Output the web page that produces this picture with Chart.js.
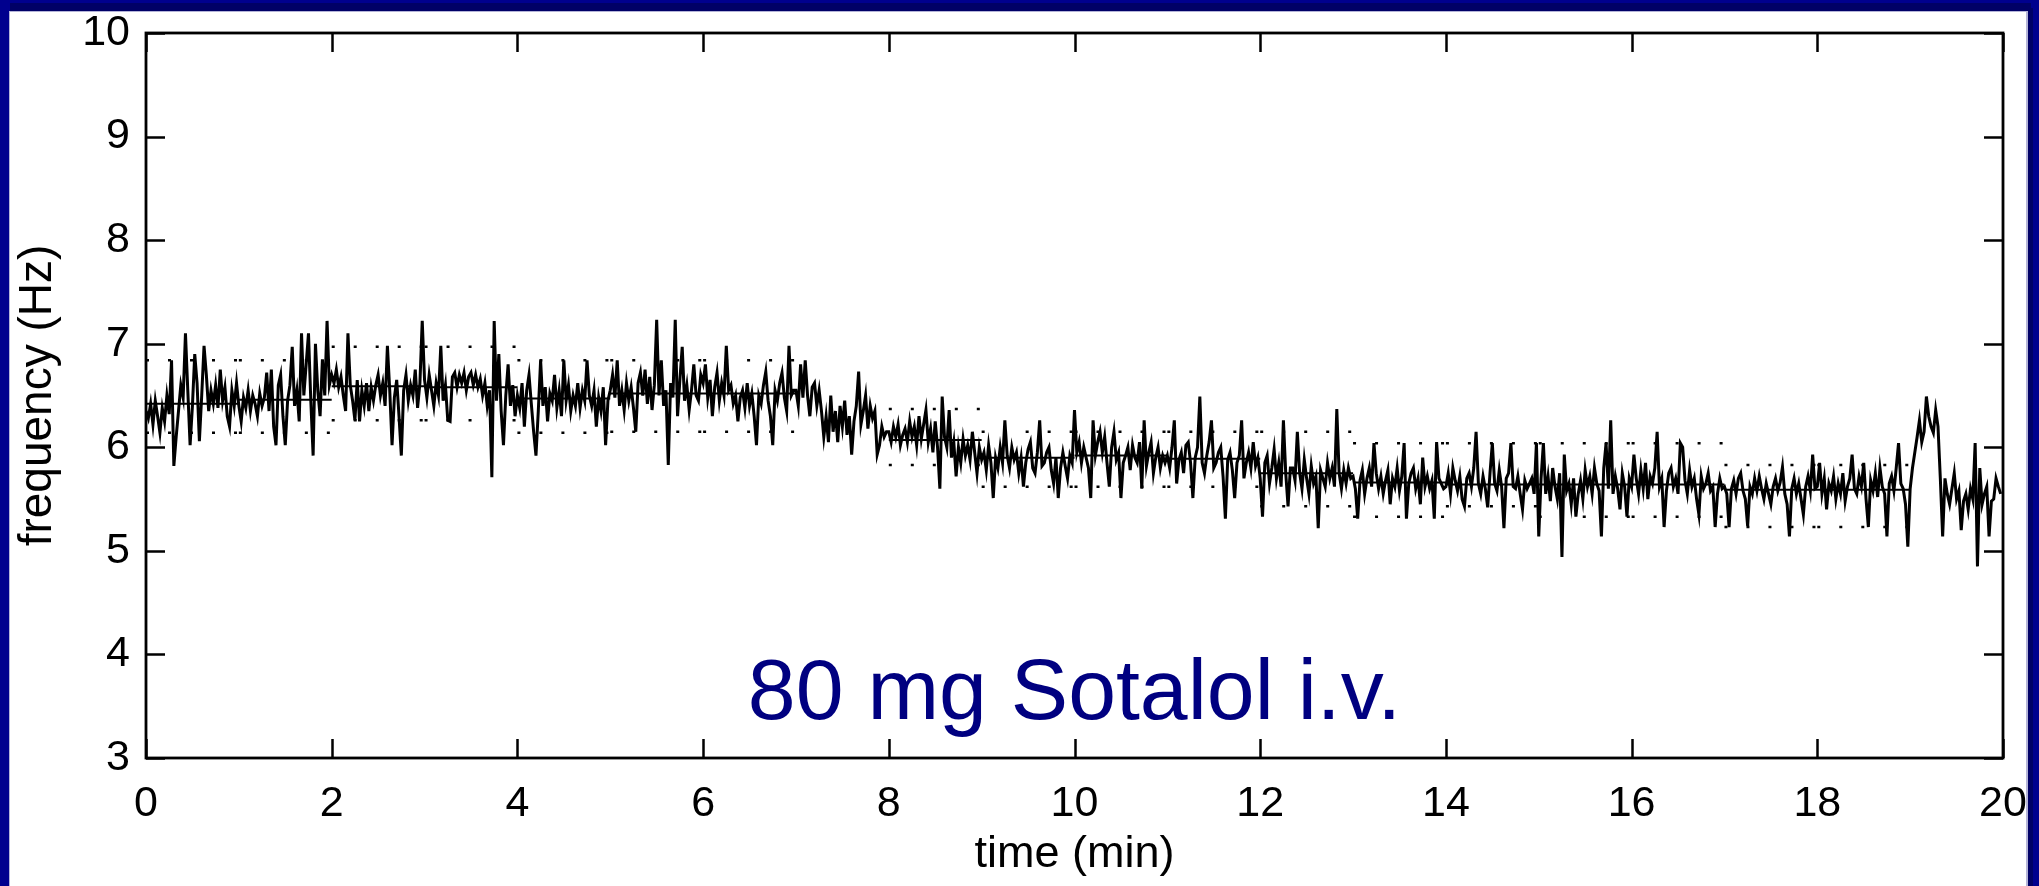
<!DOCTYPE html>
<html>
<head>
<meta charset="utf-8">
<title>80 mg Sotalol i.v.</title>
<script src="https://cdn.jsdelivr.net/npm/chart.js@4.4.1/dist/chart.umd.min.js"></script>
<style>
  html, body { margin: 0; padding: 0; background: #fff; overflow: hidden; }
  #wrap { position: relative; width: 2039px; height: 886px; }
</style>
</head>
<body>
<div id="wrap"><canvas id="freqChart"></canvas></div>
<script>
const FONT = "'Liberation Sans', Arial, Helvetica, sans-serif";

// dominant frequency (Hz), one sample every 1.5 s, one row per minute
const sampleStep = 0.025; // min
const freq = [
  6.35,6.28,6.42,6.22,6.45,6.30,6.14,6.38,6.25,6.50, 6.32,6.84,5.82,6.10,6.35,6.60,6.48,7.10,6.55,6.02, 6.40,6.90,6.62,6.06,6.50,6.98,6.70,6.35,6.55,6.42, 6.60,6.38,6.75,6.45,6.58,6.30,6.20,6.55,6.40,6.62,
  6.40,6.25,6.48,6.38,6.55,6.35,6.50,6.42,6.30,6.52, 6.40,6.48,6.72,6.35,6.75,6.20,6.02,6.60,6.70,6.30, 6.02,6.45,6.60,6.97,6.40,6.55,6.25,7.10,6.50,6.80, 7.10,6.45,5.92,7.00,6.55,6.30,6.85,6.50,7.22,6.60,
  6.70,6.62,6.75,6.58,6.68,6.50,6.35,7.10,6.60,6.45, 6.26,6.65,6.25,6.55,6.40,6.62,6.35,6.58,6.45,6.60, 6.70,6.50,6.62,6.40,6.98,6.55,6.02,6.48,6.65,6.30, 5.92,6.55,6.70,6.45,6.60,6.50,6.75,6.38,6.62,7.22,
  6.65,6.48,6.70,6.55,6.40,6.62,6.50,6.98,6.45,6.60, 6.26,6.25,6.68,6.72,6.58,6.70,6.62,6.72,6.55,6.68, 6.72,6.60,6.70,6.58,6.66,6.50,6.62,6.40,6.55,5.71, 7.22,6.45,6.90,6.35,6.02,6.50,6.80,6.40,6.60,6.30,
  6.50,6.38,6.62,6.20,6.55,6.70,6.42,6.15,5.92,6.35, 6.84,6.40,6.58,6.25,6.52,6.45,6.70,6.38,6.55,6.30, 6.84,6.45,6.60,6.35,6.50,6.40,6.62,6.38,6.55,6.45, 6.84,6.50,6.40,6.55,6.20,6.48,6.35,6.58,6.02,6.45,
  6.55,6.70,6.48,6.84,6.40,6.55,6.36,6.62,6.45,6.58, 6.38,6.15,6.62,6.72,6.50,6.75,6.42,6.68,6.36,6.60, 7.23,6.50,6.84,6.40,6.55,5.83,6.62,6.48,7.23,6.30, 6.65,6.97,6.45,6.60,6.36,6.55,6.80,6.50,6.45,6.70,
  6.62,6.80,6.48,6.65,6.30,6.58,6.72,6.45,6.62,6.50, 6.98,6.55,6.60,6.42,6.50,6.25,6.48,6.55,6.38,6.62, 6.40,6.52,6.30,6.02,6.50,6.42,6.60,6.73,6.45,6.30, 6.02,6.55,6.45,6.62,6.72,6.48,6.35,6.98,6.50,6.55,
  6.55,6.40,6.80,6.48,6.84,6.50,6.30,6.58,6.62,6.40, 6.55,6.35,6.10,6.30,6.05,6.50,6.15,6.35,6.05,6.40, 6.20,6.45,6.12,6.30,5.93,6.25,6.40,6.73,6.22,6.35, 6.50,6.18,6.40,6.28,6.35,5.93,6.02,6.20,6.10,6.15,
  6.15,6.05,6.20,6.10,6.22,6.02,6.12,6.18,6.05,6.25, 6.10,6.20,6.02,6.30,6.08,6.22,6.36,6.05,6.18,5.95, 6.25,6.00,5.60,6.49,6.10,6.00,6.36,5.90,6.05,5.72, 6.00,5.85,6.08,5.92,6.02,5.88,6.15,5.95,5.75,6.00,
  5.88,5.95,5.78,6.02,5.85,5.51,5.90,5.80,6.00,5.85, 6.26,5.92,5.80,6.00,5.88,5.95,5.75,5.90,5.62,5.85, 5.98,6.05,5.80,5.75,5.95,6.26,5.82,5.85,5.95,6.00, 5.78,5.65,5.90,5.51,5.80,5.95,5.82,5.70,5.92,5.85,
  6.36,5.95,6.05,5.85,6.00,5.90,5.80,5.51,6.26,5.92, 6.05,6.15,5.95,6.10,5.85,5.62,6.00,6.15,5.88,5.95, 5.51,5.85,5.92,6.00,5.78,6.02,5.90,5.85,6.05,5.60, 6.26,5.82,5.95,6.05,5.75,5.90,6.00,5.80,5.92,5.85,
  5.92,5.80,6.00,6.26,5.65,5.88,5.95,5.75,6.02,6.05, 5.85,5.51,5.90,6.00,6.49,5.85,5.75,5.92,6.05,6.26, 5.80,5.85,5.95,6.00,5.72,5.31,5.88,5.95,5.78,5.51, 5.85,5.92,6.26,5.70,5.85,5.95,5.80,6.05,5.82,5.90,
  5.70,5.33,5.85,5.92,5.65,5.80,5.98,5.70,5.85,5.62, 6.26,5.75,5.43,5.80,5.80,5.68,6.15,5.75,5.60,5.88, 5.70,5.55,5.82,5.65,5.72,5.22,5.78,5.70,5.62,5.85, 5.70,5.80,5.62,6.37,5.75,5.60,5.78,5.65,5.80,5.70,
  5.72,5.60,5.31,5.68,5.78,5.55,5.70,5.80,5.62,6.04, 5.75,5.60,5.72,5.55,5.68,5.78,5.45,5.70,5.62,5.80, 5.58,5.72,6.04,5.31,5.65,5.75,5.80,5.60,5.70,5.45, 5.90,5.62,5.72,5.60,5.68,5.31,6.05,5.70,5.65,5.60,
  5.62,5.75,5.55,5.80,5.68,5.58,5.72,5.50,5.43,5.70, 5.75,5.62,5.80,6.15,5.65,5.55,5.72,5.60,5.42,5.75, 6.04,5.65,5.58,5.78,5.62,5.22,5.70,5.75,6.04,5.62, 5.60,5.72,5.55,5.40,5.68,5.60,5.65,5.70,5.55,6.04,
  5.14,5.70,6.04,5.55,5.72,5.48,5.80,5.62,5.50,5.75, 4.94,5.93,5.58,5.65,5.45,5.70,5.33,5.55,5.68,5.50, 5.78,5.62,5.72,5.55,5.80,5.65,5.58,5.14,5.80,6.04, 5.60,6.26,5.55,5.72,5.60,5.40,5.75,5.62,5.33,5.70,
  5.62,5.93,5.70,5.55,5.78,5.60,5.85,5.50,5.72,5.65, 5.80,6.15,5.62,5.70,5.23,5.58,5.75,5.80,5.62,5.70, 5.55,6.04,6.00,5.68,5.55,5.78,5.62,5.70,5.50,5.35, 5.72,5.60,5.65,5.75,5.58,5.62,5.23,5.55,5.70,5.60,
  5.62,5.55,5.23,5.60,5.68,5.55,5.70,5.75,5.58,5.50, 5.24,5.62,5.55,5.70,5.58,5.72,5.60,5.50,5.65,5.55, 5.45,5.62,5.70,5.58,5.66,5.81,5.55,5.45,5.14,5.60, 5.70,5.55,5.65,5.50,5.35,5.62,5.72,5.58,5.93,5.60,
  5.62,5.85,5.55,5.70,5.40,5.65,5.58,5.72,5.50,5.65, 5.55,5.75,5.48,5.62,5.70,5.93,5.60,5.55,5.72,5.62, 5.85,5.50,5.23,5.68,5.58,5.75,5.52,5.80,5.62,5.55, 5.14,5.65,5.72,5.58,5.80,6.04,5.65,5.60,5.45,5.04,
  5.60,5.80,5.95,6.10,6.26,6.05,6.15,6.49,6.30,6.20, 6.14,6.36,6.20,5.70,5.14,5.70,5.55,5.45,5.60,5.75, 5.50,5.58,5.20,5.48,5.55,5.40,5.60,5.50,6.04,4.85, 5.80,5.45,5.55,5.62,5.14,5.48,5.50,5.70,5.62,5.55
];

// one-minute windows: mean and the dotted upper / lower bounds (null = not drawn)
const windowMean  = [6.42,6.46,6.59,6.58,6.47,6.52,6.52,null,6.07,5.90,5.92,5.89,5.75,5.66,5.64,5.64,5.64,5.59,5.59,null];
const windowUpper = [6.84,6.84,6.97,6.97,6.84,6.84,6.84,null,6.37,6.15,6.15,6.15,6.15,6.04,6.04,6.04,6.04,5.83,5.83,null];
const windowLower = [6.14,6.14,6.26,6.26,6.14,6.15,6.15,null,5.83,5.62,5.62,5.62,5.43,5.33,5.43,5.33,5.33,5.23,5.23,null];

const xTicks = [0, 2, 4, 6, 8, 10, 12, 14, 16, 18, 20];
const yTicks = [3, 4, 5, 6, 7, 8, 9, 10];

const signalPoints = freq.map((v, i) => ({ x: i * sampleStep, y: v }));

// horizontal piece per window, broken by a NaN point between windows
function windowSegments(values) {
  const pts = [];
  values.forEach((v, m) => {
    if (v === null) return;
    pts.push({ x: m, y: v }, { x: m + 1, y: v }, { x: m + 1, y: NaN });
  });
  return pts;
}

const frameAndTicks = {
  id: "frameAndTicks",
  beforeDraw(chart) {
    const { ctx, width, height } = chart;
    ctx.save();
    ctx.fillStyle = "#ffffff";
    ctx.fillRect(0, 0, width, height);
    // slide border
    ctx.fillStyle = "#00008e";
    ctx.fillRect(0, 0, width, 12);
    ctx.fillRect(0, 0, 10, height);
    ctx.fillRect(width - 13, 0, 13, height);
    ctx.fillStyle = "#000066";
    ctx.fillRect(10, 3, width - 18, 8);
    ctx.fillRect(width - 11, 8, 5, height);
    ctx.fillStyle = "#b4b4d8";
    ctx.fillRect(10, 11, width - 23, 1);
    ctx.fillRect(9, 11, 1, height);
    ctx.fillRect(width - 13, 11, 2, height);
    ctx.restore();
  },
  afterDatasetsDraw(chart) {
    const { ctx, chartArea: a, scales: { x, y } } = chart;
    const len = 19;
    ctx.save();
    ctx.strokeStyle = "#000";
    ctx.lineWidth = 2.8;
    ctx.strokeRect(a.left, a.top, a.right - a.left, a.bottom - a.top);
    ctx.lineWidth = 2.5;
    ctx.beginPath();
    xTicks.forEach(v => {
      const px = Math.round(x.getPixelForValue(v)) + 0.5;
      ctx.moveTo(px, a.bottom); ctx.lineTo(px, a.bottom - len);
      ctx.moveTo(px, a.top); ctx.lineTo(px, a.top + len);
    });
    yTicks.forEach(v => {
      const py = Math.round(y.getPixelForValue(v)) + 0.5;
      ctx.moveTo(a.left, py); ctx.lineTo(a.left + len, py);
      ctx.moveTo(a.right, py); ctx.lineTo(a.right - len, py);
    });
    ctx.stroke();

    ctx.fillStyle = "#000080";
    ctx.font = "86px " + FONT;
    ctx.textAlign = "center";
    ctx.textBaseline = "alphabetic";
    ctx.fillText("80 mg Sotalol i.v.", x.getPixelForValue(10), y.getPixelForValue(3.38));
    ctx.restore();
  }
};

new Chart(document.getElementById("freqChart"), {
  type: "line",
  data: {
    datasets: [
      {
        data: signalPoints,
        borderColor: "#000",
        borderWidth: 3,
        pointRadius: 0,
        tension: 0
      },
      {
        data: windowSegments(windowMean),
        borderColor: "#000",
        borderWidth: 2,
        pointRadius: 0,
        spanGaps: false
      },
      {
        data: windowSegments(windowUpper),
        borderColor: "#000",
        borderWidth: 2.5,
        borderDash: [3, 19],
        pointRadius: 0,
        spanGaps: false
      },
      {
        data: windowSegments(windowLower),
        borderColor: "#000",
        borderWidth: 2.5,
        borderDash: [3, 19],
        pointRadius: 0,
        spanGaps: false
      }
    ]
  },
  options: {
    responsive: true,
    maintainAspectRatio: false,
    animation: false,
    parsing: false,
    normalized: true,
    layout: { padding: { left: 0, top: 33, right: 36, bottom: 0 } },
    plugins: { legend: { display: false }, tooltip: { enabled: false } },
    scales: {
      x: {
        type: "linear",
        min: 0,
        max: 20,
        afterBuildTicks: s => { s.ticks = xTicks.map(v => ({ value: v })); },
        // fixed axis box; label overhang is left to the page margins
        afterFit: s => { s.height = 128; s.paddingLeft = 0; s.paddingRight = 0; },
        grid: { display: false, drawTicks: false },
        border: { display: false },
        ticks: { color: "#000", font: { family: FONT, size: 43 }, padding: 20, maxRotation: 0 },
        title: {
          display: true,
          text: "time (min)",
          color: "#000",
          font: { family: FONT, size: 45 },
          padding: { top: 0, bottom: 4 }
        }
      },
      y: {
        type: "linear",
        min: 3,
        max: 10,
        afterBuildTicks: s => { s.ticks = yTicks.map(v => ({ value: v })); },
        afterFit: s => { s.width = 146; s.paddingTop = 0; s.paddingBottom = 0; },
        grid: { display: false, drawTicks: false },
        border: { display: false },
        ticks: { color: "#000", font: { family: FONT, size: 43 }, padding: 16 },
        title: {
          display: true,
          text: "frequency (Hz)",
          color: "#000",
          font: { family: FONT, size: 46 },
          padding: { top: 11, bottom: 0 }
        }
      }
    }
  },
  plugins: [frameAndTicks]
});
</script>
</body>
</html>
